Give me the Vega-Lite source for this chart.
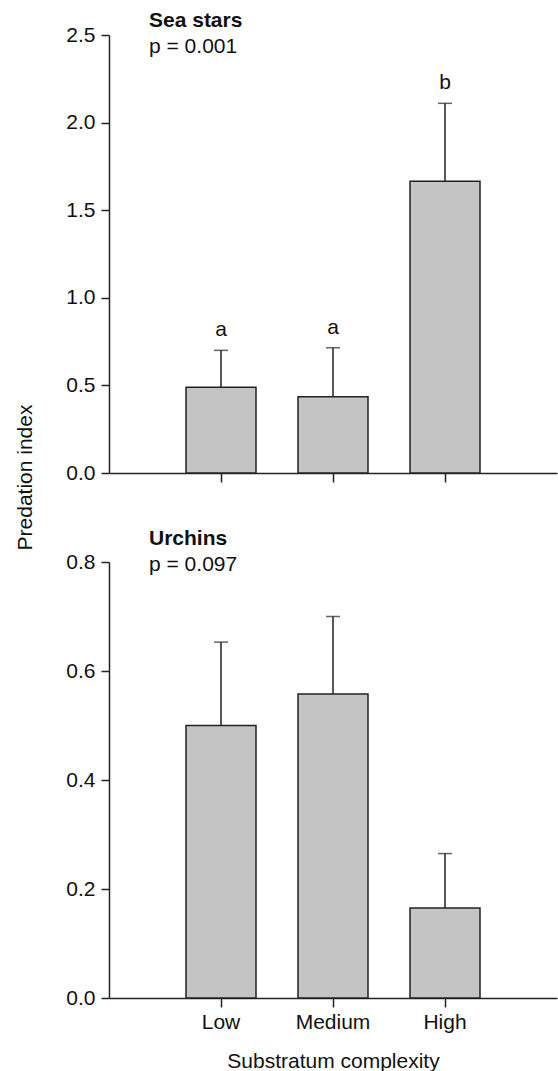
{
  "$schema": "https://vega.github.io/schema/vega-lite/v6.json",
  "background": "white",
  "padding": {"left": 14, "top": 10, "right": 2, "bottom": 0},
  "spacing": 89,
  "bounds": "flush",
  "config": {
    "font": "Liberation Sans",
    "view": {"stroke": null},
    "axis": {
      "domainColor": "#222",
      "domainWidth": 1.5,
      "tickColor": "#222",
      "tickWidth": 1.5,
      "tickSize": 8,
      "labelFont": "Liberation Sans",
      "labelFontSize": 21,
      "labelColor": "#111",
      "titleFont": "Liberation Sans",
      "titleFontSize": 21,
      "titleFontWeight": "normal",
      "titleColor": "#111",
      "grid": false
    },
    "title": {
      "font": "Liberation Sans",
      "fontSize": 21,
      "fontWeight": "bold",
      "color": "#111",
      "subtitleFont": "Liberation Sans",
      "subtitleFontSize": 21,
      "subtitleColor": "#111",
      "anchor": "start",
      "frame": "group",
      "dx": 40,
      "subtitlePadding": 5
    }
  },
  "datasets": {
    "stars": [
      {"cat": "Low", "v": 0.49, "u": 0.70, "lab": "a"},
      {"cat": "Medium", "v": 0.435, "u": 0.715, "lab": "a"},
      {"cat": "High", "v": 1.665, "u": 2.11, "lab": "b"}
    ],
    "urchins": [
      {"cat": "Low", "v": 0.50, "u": 0.653},
      {"cat": "Medium", "v": 0.558, "u": 0.70},
      {"cat": "High", "v": 0.165, "u": 0.265}
    ]
  },
  "vconcat": [
    {
      "width": 448,
      "height": 438,
      "title": {"text": "Sea stars", "subtitle": "p = 0.001", "offset": -33},
      "data": {"name": "stars"},
      "encoding": {
        "x": {
          "field": "cat", "type": "nominal", "sort": ["Low", "Medium", "High"],
          "scale": {"paddingInner": 0.375, "paddingOuter": 0.6875},
          "axis": {"labels": false, "title": null, "tickSize": 9}
        }
      },
      "layer": [
        {
          "mark": {"type": "rule", "color": "#222", "strokeWidth": 1.5},
          "encoding": {
            "y": {"field": "v", "type": "quantitative"},
            "y2": {"field": "u"}
          }
        },
        {
          "mark": {"type": "tick", "color": "#222", "thickness": 1.5, "size": 14, "orient": "horizontal"},
          "encoding": {
            "y": {"field": "u", "type": "quantitative"}
          }
        },
        {
          "mark": {"type": "bar", "fill": "#c4c4c4", "stroke": "#222", "strokeWidth": 1.5},
          "encoding": {
            "y": {
              "field": "v", "type": "quantitative",
              "scale": {"domain": [0, 2.5], "nice": false},
              "axis": {
                "values": [0, 0.5, 1, 1.5, 2, 2.5], "format": ".1f", "labelPadding": 6,
                "title": "Predation index", "titleY": 442, "titlePadding": 30
              }
            }
          }
        },
        {
          "mark": {"type": "text", "fontSize": 21, "color": "#111", "dy": -14, "baseline": "alphabetic"},
          "encoding": {
            "y": {"field": "u", "type": "quantitative"},
            "text": {"field": "lab"}
          }
        }
      ]
    },
    {
      "width": 448,
      "height": 436,
      "title": {"text": "Urchins", "subtitle": "p = 0.097", "offset": -24},
      "data": {"name": "urchins"},
      "encoding": {
        "x": {
          "field": "cat", "type": "nominal", "sort": ["Low", "Medium", "High"],
          "scale": {"paddingInner": 0.375, "paddingOuter": 0.6875},
          "axis": {"labelAngle": 0, "labelPadding": 4, "tickSize": 9, "title": "Substratum complexity", "titlePadding": 18}
        }
      },
      "layer": [
        {
          "mark": {"type": "rule", "color": "#222", "strokeWidth": 1.5},
          "encoding": {
            "y": {"field": "v", "type": "quantitative"},
            "y2": {"field": "u"}
          }
        },
        {
          "mark": {"type": "tick", "color": "#222", "thickness": 1.5, "size": 14, "orient": "horizontal"},
          "encoding": {
            "y": {"field": "u", "type": "quantitative"}
          }
        },
        {
          "mark": {"type": "bar", "fill": "#c4c4c4", "stroke": "#222", "strokeWidth": 1.5},
          "encoding": {
            "y": {
              "field": "v", "type": "quantitative",
              "scale": {"domain": [0, 0.8], "nice": false},
              "axis": {"values": [0, 0.2, 0.4, 0.6, 0.8], "format": ".1f", "labelPadding": 6, "title": null}
            }
          }
        }
      ]
    }
  ]
}
